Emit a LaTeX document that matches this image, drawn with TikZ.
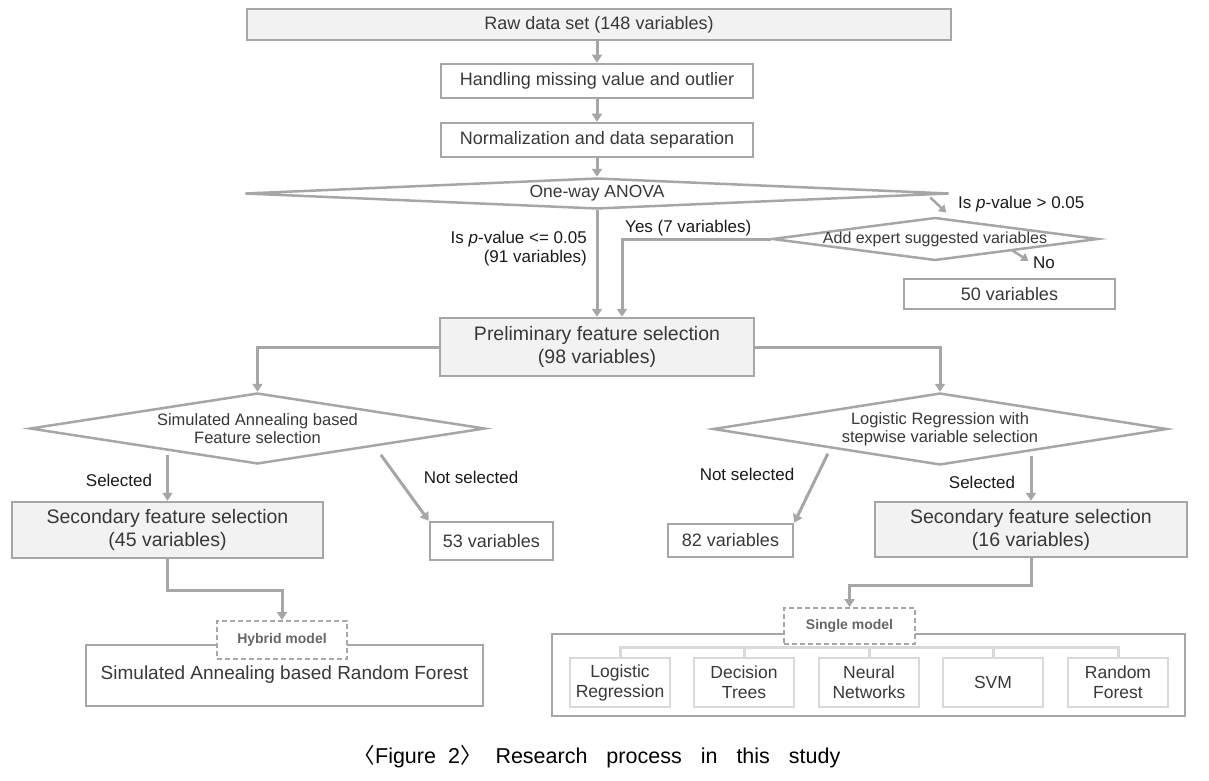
\documentclass[tikz,border=0pt]{standalone}
\usepackage{fontspec}
\setmainfont{Liberation Sans}
\newfontfamily\cjkfont{Noto Sans CJK KR}
\usetikzlibrary{shapes.geometric,arrows.meta,calc}
\definecolor{ln}{HTML}{A6A6A6}
\definecolor{lt}{HTML}{D9D9D9}
\definecolor{fl}{HTML}{F2F2F2}
\definecolor{tx}{HTML}{383838}
\definecolor{lb}{HTML}{1A1A1A}
\begin{document}
\begin{tikzpicture}[x=1pt,y=-1pt,
  box/.style={draw=ln, line width=2.5pt, rectangle, inner sep=0pt, text=tx, align=center,
              font=\fontsize{18}{21}\selectfont},
  bigbox/.style={box, fill=fl, font=\fontsize{19.5}{23}\selectfont},
  dmd/.style={draw=ln, line width=2.5pt, diamond, inner sep=0pt, fill=white},
  dtext/.style={text=tx, align=center, font=\fontsize{16.5}{17.5}\selectfont},
  lbl/.style={text=lb, align=right, inner sep=0pt, font=\fontsize{17}{19}\selectfont},
  arr/.style={draw=ln, line width=3pt, -{Triangle[width=10pt,length=8pt]}},
  sarr/.style={draw=ln, line width=2.5pt, -{Triangle[width=9pt,length=7pt]}},
  dashbox/.style={draw=ln, line width=2pt, dashed, dash pattern=on 5pt off 3pt, fill=white,
                  text=black!60, inner sep=0pt, font=\bfseries\fontsize{14}{16}\selectfont},
  modbox/.style={draw=lt, line width=2.5pt, inner sep=0pt, text=tx, align=center,
                 minimum width=100pt, minimum height=49pt, font=\fontsize{17.5}{20}\selectfont},
  tree/.style={draw=lt, line width=3pt}
]
\useasboundingbox (0,0) rectangle (1209,781);

% top chain
\node[box, fill=fl, minimum width=704pt, minimum height=31pt] (raw) at (599,24.5) {Raw data set (148 variables)};
\node[box, minimum width=312pt, minimum height=34pt] (handle) at (597,81) {Handling missing value and outlier};
\node[box, minimum width=312pt, minimum height=34pt] (norm) at (597,140) {Normalization and data separation};
\node[dmd, minimum width=704pt, minimum height=31pt] (anova) at (597,193.5) {};
\node[dtext, font=\fontsize{17.5}{19}\selectfont] at (anova) {One-way ANOVA};
\node[dmd, minimum width=326pt, minimum height=43pt] (expert) at (935,239) {};
\node[dtext, font=\fontsize{16}{18}\selectfont] at (expert) {Add expert suggested variables};
\node[box, minimum width=211pt, minimum height=30pt] (b50) at (1009.5,294) {50 variables};

\draw[arr] (handle.north |- raw.south) -- (handle.north);
\draw[arr] (handle.south) -- (norm.north);
\draw[arr] (norm.south) -- (anova.north);

% p > 0.05 branch
\coordinate (pgt) at ($(anova.east)+(-4,19)$);
\draw[sarr] ($(anova.east)+(-20,4)$) -- (pgt);
\node[lbl, anchor=west] at (958,204) {Is \textit{p}-value > 0.05};
\coordinate (noend) at ($(b50.north)+(19,-17)$);
\draw[sarr] ($(expert.south east)+(-5,0)$) -- (noend);
\node[lbl, anchor=west] at (1033,263) {No};

% preliminary
\node[bigbox, minimum width=314pt, minimum height=58pt] (prelim) at (597,347) {Preliminary feature selection\\(98 variables)};
\draw[arr] (anova.south) -- (prelim.north);
\coordinate (yesin) at ($(prelim.north)+(25,0)$);
\draw[arr] (expert.west) -| (yesin);
\node[lbl, anchor=west] at (625,228) {Yes (7 variables)};
\node[lbl, anchor=east] at (587,249) {Is \textit{p}-value <= 0.05\\(91 variables)};

% diamonds
\node[dmd, minimum width=455pt, minimum height=71pt] (sa) at (257.5,428.5) {};
\node[dtext] at (sa) {Simulated Annealing based\\Feature selection};
\node[dmd, minimum width=454pt, minimum height=72pt] (lr) at (940,429) {};
\node[dtext] at (lr) {Logistic Regression with\\stepwise variable selection};
\draw[arr] (prelim.west) -| (sa.north);
\draw[arr] (prelim.east) -| (lr.north);

% second level
\node[bigbox, minimum width=311pt, minimum height=56pt] (sec1) at (167.5,530) {Secondary feature selection\\(45 variables)};
\node[box, minimum width=123pt, minimum height=38pt] (b53) at (491.5,541) {53 variables};
\node[box, minimum width=125pt, minimum height=33pt] (b82) at (730.5,540.5) {82 variables};
\node[bigbox, minimum width=312pt, minimum height=55pt] (sec2) at (1031,529.5) {Secondary feature selection\\(16 variables)};

\coordinate (saout) at ($(sa.south west)+(0,8)$);
\coordinate (lrout) at ($(lr.south east)+(0,8)$);
\draw[arr] (saout -| sec1.north) -- (sec1.north);
\draw[arr] ($(sa.south east)+(9,8)$) -- (b53.north west);
\draw[arr] ($(lr.south west)+(2,6)$) -- (b82.north east);
\draw[arr] (lrout -| sec2.north) -- (sec2.north);
\node[lbl, anchor=center] at (119,480) {Selected};
\node[lbl, anchor=center] at (471,477) {Not selected};
\node[lbl, anchor=center] at (747,474) {Not selected};
\node[lbl, anchor=center] at (982,482) {Selected};

% hybrid model
\node[draw=ln, line width=2pt, minimum width=397pt, minimum height=61pt] (hbig) at (284.5,675.5) {};
\node[text=tx, font=\fontsize{19}{22}\selectfont] at (284.5,675) {Simulated Annealing based Random Forest};
\node[dashbox, minimum width=130pt, minimum height=38pt] (hyb) at (282,640) {Hybrid model};
\draw[arr] (sec1.south) -- ++(0,31) -| (hyb.north);

% single model
\node[draw=ln, line width=2pt, minimum width=633pt, minimum height=82pt] (sbig) at (868.5,675) {};
\node[modbox] (m1) at (620,682.5) {Logistic\\Regression};
\node[modbox] (m2) at (744,682.5) {Decision\\Trees};
\node[modbox] (m3) at (869,682.5) {Neural\\Networks};
\node[modbox] (m4) at (993,682.5) {SVM};
\node[modbox] (m5) at (1118,682.5) {Random\\Forest};
\coordinate (bar) at (869,647);
\draw[tree] (m1.north) |- (bar) -| (m5.north);
\draw[tree] (m2.north) -- (m2.north |- bar);
\draw[tree] (m3.north) -- (m3.north |- bar);
\draw[tree] (m4.north) -- (m4.north |- bar);
\node[dashbox, minimum width=131pt, minimum height=36pt] (single) at (849.5,626) {Single model};
\draw[arr] (sec2.south) -- ++(0,27) -| (single.north);

% caption
\node[text=black, inner sep=0pt, font=\fontsize{21.5}{24}\selectfont] (cap) at (597,757)
  {\spaceskip=19pt\relax{\cjkfont 〈}Figure\hspace{12pt}2{\cjkfont 〉}\hspace{14pt}Research process in this study};
\end{tikzpicture}
\end{document}
